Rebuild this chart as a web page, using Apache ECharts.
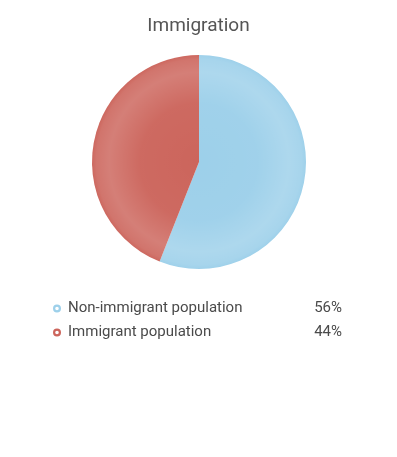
<!DOCTYPE html>
<html>
<head>
<meta charset="utf-8">
<script src="https://cdn.jsdelivr.net/npm/echarts@6/dist/echarts.min.js"></script>
<style>
  html, body { margin: 0; padding: 0; background: #fff; }
  #pie-chart { width: 397px; height: 457px; }
</style>
</head>
<body>
<div id="pie-chart"></div>
<script>
// data
let names = ["Non-immigrant population", "Immigrant population"];
let values = [56, 44];
let colors = ["#9dd0ea", "#cc655c"];

let cx = 199, cy = 162, r = 107;

// ring marker for the legend (outer circle, inner hole drawn the other way)
let ringIcon = 'path://M0,-10A10,10 0 1,1 0,10A10,10 0 1,1 0,-10Z' +
    'M0,-4.5A4.5,4.5 0 1,0 0,4.5A4.5,4.5 0 1,0 0,-4.5Z';

let pie_dom = document.getElementById("pie-chart");
let pieChart = echarts.init(pie_dom);

let pie_option = {
    title: {
        text: "Immigration",
        left: "center",
        top: 12,
        textStyle: {
            fontFamily: "Roboto",
            fontSize: 19,
            fontWeight: "normal",
            color: "#555"
        }
    },
    color: colors,
    legend: {
        orient: 'vertical',
        left: 48,
        top: 296,
        itemWidth: 8,
        itemHeight: 8,
        itemGap: 9,
        icon: ringIcon,
        data: names,
        formatter: function (name) {
            let i = names.indexOf(name);
            return '{a|' + name + '}{b|' + values[i] + '%}';
        },
        textStyle: {
            rich: {
                a: { fontFamily: "Roboto", fontSize: 15, color: "#4a4a4a", width: 244, lineHeight: 16, padding: [0, 0, 0, 2] },
                b: { fontFamily: "Roboto", fontSize: 15, color: "#4a4a4a", width: 30, align: 'right', lineHeight: 16 }
            }
        }
    },
    series: [{
        name: "Immigration",
        type: "pie",
        center: [cx, cy],
        radius: [0, r],
        startAngle: 90,
        clockwise: true,
        label: { show: false },
        labelLine: { show: false },
        emphasis: { scale: false },
        itemStyle: { borderWidth: 0 },
        data: names.map((n, i) => ({ name: n, value: values[i] }))
    }, {
        // soft shading ring laid over the pie
        name: "shade",
        type: "pie",
        silent: true,
        center: [cx, cy],
        radius: [0, r],
        label: { show: false },
        labelLine: { show: false },
        itemStyle: {
            color: {
                type: 'radial', x: cx, y: cy, r: r, global: true,
                colorStops: [
                    { offset: 0, color: 'rgba(255,255,255,0)' },
                    { offset: 0.55, color: 'rgba(255,255,255,0.03)' },
                    { offset: 0.84, color: 'rgba(255,255,255,0.17)' },
                    { offset: 0.96, color: 'rgba(255,255,255,0.1)' },
                    { offset: 1, color: 'rgba(255,255,255,0.02)' }
                ]
            }
        },
        data: [{ name: "shade", value: 1 }]
    }]
};
pieChart.setOption(pie_option);
</script>
</body>
</html>
